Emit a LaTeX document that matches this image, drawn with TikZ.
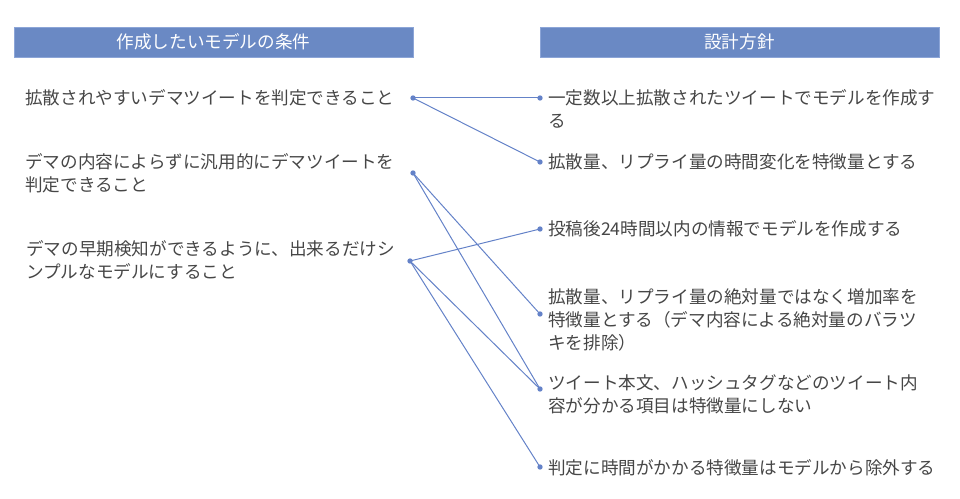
\documentclass[tikz,border=0pt]{standalone}
\usepackage{fontspec}
\setmainfont{Noto Sans CJK JP}
\definecolor{headfill}{RGB}{106,137,196}
\definecolor{headline}{RGB}{140,165,215}
\definecolor{txt}{RGB}{70,70,70}
\definecolor{link}{RGB}{100,130,200}
\begin{document}
\begin{tikzpicture}[x=0.75pt,y=-0.75pt,
  head/.style={draw=headline,line width=0.6pt,fill=headfill,text=white,minimum width=299.25pt,minimum height=22.5pt,inner sep=0pt,font=\fontsize{13.2pt}{16pt}\selectfont},
  item/.style={anchor=base west,align=left,inner sep=0pt,text=txt,font=\fontsize{13.2pt}{17.25pt}\selectfont},
  dot/.style={circle,fill=link,inner sep=0pt,minimum size=4pt},
  conn/.style={draw=link,line width=0.75pt}]
\useasboundingbox (0,0) rectangle (960,499);
\node[head] (hl) at (213.5,42) {作成したいモデルの条件};
\node[head] (hr) at (739.5,42) {設計方針};
% left items (anchor = baseline of last line)
\node[item] (l1) at (25,105) {拡散されやすいデマツイートを判定できること};
\node[item] (l2) at (25,192) {デマの内容によらずに汎用的にデマツイートを\\判定できること};
\node[item] (l3) at (26,278) {デマの早期検知ができるように、出来るだけシ\\ンプルなモデルにすること};
% right items
\node[item] (r1) at (548,128) {一定数以上拡散されたツイートでモデルを作成す\\る};
\node[item] (r2) at (548,169) {拡散量、リプライ量の時間変化を特徴量とする};
\node[item] (r3) at (548,235) {投稿後24時間以内の情報でモデルを作成する};
\node[item] (r4) at (548,349) {拡散量、リプライ量の絶対量ではなく増加率を\\特徴量とする（デマ内容による絶対量のバラツ\\キを排除）};
\node[item] (r5) at (548,412) {ツイート本文、ハッシュタグなどのツイート内\\容が分かる項目は特徴量にしない};
\node[item] (r6) at (548,474) {判定に時間がかかる特徴量はモデルから除外する};
% connection points
\coordinate (a1) at (413,98);
\coordinate (a2) at (413,173);
\coordinate (a3) at (410,261);
\coordinate (b1) at (540,98);
\coordinate (b2) at (540,162);
\coordinate (b3) at (540,229);
\coordinate (b4) at (540,314);
\coordinate (b5) at (540,389);
\coordinate (b6) at (540,467);
\draw[conn] (a1) -- (b1);
\draw[conn] (a1) -- (b2);
\draw[conn] (a2) -- (b4);
\draw[conn] (a2) -- (b5);
\draw[conn] (a3) -- (b3);
\draw[conn] (a3) -- (b5);
\draw[conn] (a3) -- (b6);
\foreach \p in {a1,a2,a3,b1,b2,b3,b4,b5,b6} \node[dot] at (\p) {};
\end{tikzpicture}
\end{document}
